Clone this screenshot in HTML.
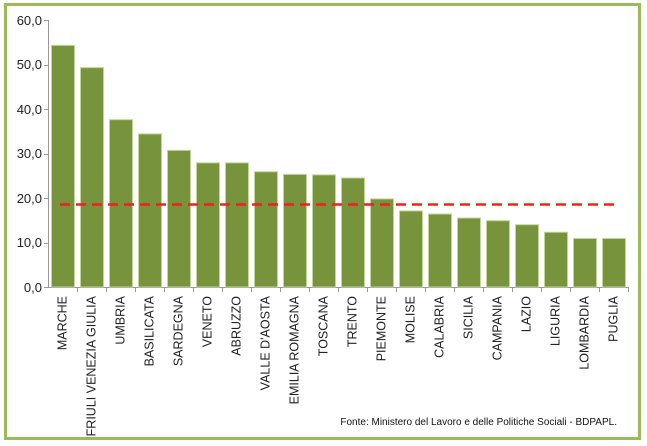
<!DOCTYPE html>
<html><head><style>body{margin:0;background:#fff}svg{display:block}</style></head><body>
<svg width="647" height="446" xmlns="http://www.w3.org/2000/svg" font-family="Liberation Sans, sans-serif">
<rect x="0" y="0" width="647" height="446" fill="#fff"/>
<rect x="5.5" y="4.5" width="634" height="434" fill="none" stroke="#9BBB59" stroke-width="3"/>
<g font-size="13" fill="#222" text-anchor="end">
<text x="42" y="25">60,0</text><text x="42" y="69">50,0</text><text x="42" y="114">40,0</text><text x="42" y="158">30,0</text><text x="42" y="203">20,0</text><text x="42" y="247">10,0</text><text x="42" y="292">0,0</text>
</g>
<g stroke="#999" stroke-width="1">
<line x1="48.5" y1="20" x2="48.5" y2="287"/>
<line x1="44" y1="20.5" x2="48" y2="20.5"/><line x1="44" y1="65.5" x2="48" y2="65.5"/><line x1="44" y1="109.5" x2="48" y2="109.5"/><line x1="44" y1="154.5" x2="48" y2="154.5"/><line x1="44" y1="198.5" x2="48" y2="198.5"/><line x1="44" y1="243.5" x2="48" y2="243.5"/>
<line x1="44" y1="287.5" x2="628" y2="287.5"/>
</g>
<g id="bars"></g>
<g id="ticks" stroke="#999"></g>
<line x1="60" y1="204.5" x2="615" y2="204.5" stroke="#f02020" stroke-width="2.5" stroke-dasharray="10,6"/>
<g id="labels" font-size="12.5" fill="#222"></g>
<text x="617" y="425" font-size="10" text-anchor="end" fill="#111">Fonte: Ministero del Lavoro e delle Politiche Sociali - BDPAPL.</text>
<script>
var names=["MARCHE","FRIULI VENEZIA GIULIA","UMBRIA","BASILICATA","SARDEGNA","VENETO","ABRUZZO","VALLE D'AOSTA","EMILIA ROMAGNA","TOSCANA","TRENTO","PIEMONTE","MOLISE","CALABRIA","SICILIA","CAMPANIA","LAZIO","LIGURIA","LOMBARDIA","PUGLIA"];
var vals=[54.3,49.3,37.6,34.4,30.7,27.9,27.9,25.9,25.3,25.2,24.5,19.8,17.1,16.4,15.5,14.9,14.0,12.3,10.9,10.9];
var ns="http://www.w3.org/2000/svg",b=document.getElementById("bars"),t=document.getElementById("ticks"),l=document.getElementById("labels");
for(var i=0;i<20;i++){var x0=48+i*29,h=vals[i]*4.45;
var r=document.createElementNS(ns,"rect");r.setAttribute("x",x0+3.5);r.setAttribute("y",287-h);r.setAttribute("width",23);r.setAttribute("height",h);r.setAttribute("fill","#77933C");r.setAttribute("stroke","#C3D69B");r.setAttribute("stroke-width","1");b.appendChild(r);
var k=document.createElementNS(ns,"line");k.setAttribute("x1",x0+29.5);k.setAttribute("x2",x0+29.5);k.setAttribute("y1",287);k.setAttribute("y2",292);t.appendChild(k);
var tx=document.createElementNS(ns,"text");var cx=x0+14.5+4;tx.setAttribute("x",cx);tx.setAttribute("y",296);tx.setAttribute("text-anchor","end");tx.setAttribute("transform","rotate(-90 "+cx+" 296)");tx.textContent=names[i];l.appendChild(tx);}
</script>
</svg>
</body></html>
